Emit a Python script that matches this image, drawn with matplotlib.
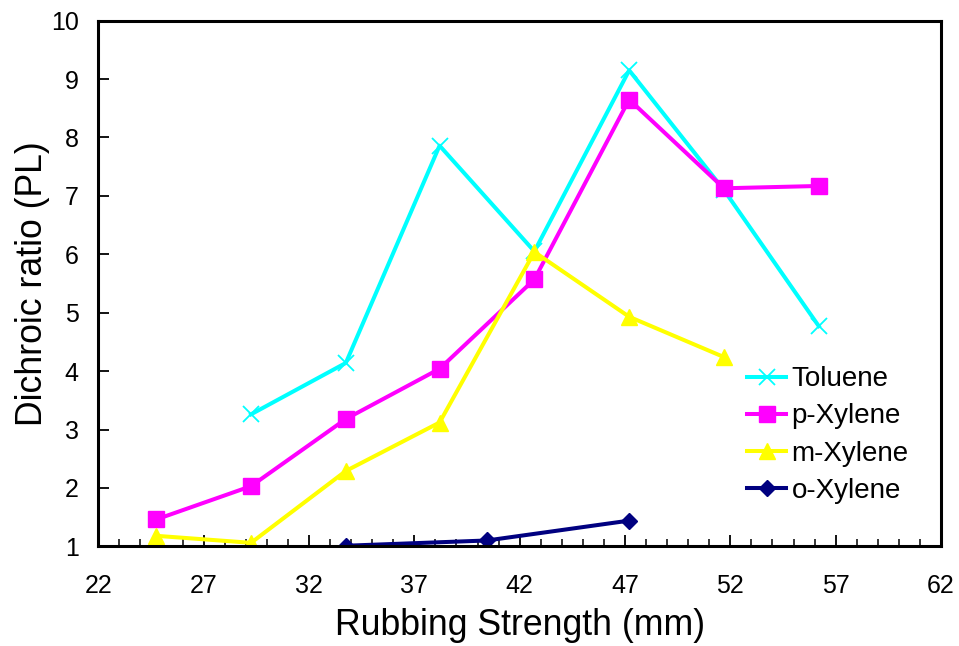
import matplotlib
matplotlib.use("Agg")
import matplotlib.pyplot as plt
from matplotlib.ticker import MultipleLocator

plt.rcParams['font.family'] = ['Liberation Sans', 'DejaVu Sans']

x_all = [24.75, 29.25, 33.75, 38.2, 42.7, 47.2, 51.7, 56.2]
toluene_x = [29.25, 33.75, 38.2, 42.7, 47.2, 51.7, 56.2]
toluene_y = [3.26, 4.14, 7.86, 6.05, 9.15, 7.10, 4.77]
pxylene_x = x_all
pxylene_y = [1.46, 2.03, 3.18, 4.04, 5.57, 8.65, 7.13, 7.17]
mxylene_x = [24.75, 29.25, 33.75, 38.2, 42.7, 47.2, 51.7]
mxylene_y = [1.18, 1.06, 2.29, 3.12, 6.04, 4.93, 4.24]
oxylene_x = [33.75, 40.45, 47.2]
oxylene_y = [1.01, 1.10, 1.44]

x_ticks = [22, 27, 32, 37, 42, 47, 52, 57, 62]
y_ticks = [1, 2, 3, 4, 5, 6, 7, 8, 9, 10]

fig = plt.figure(figsize=(9.59, 6.46), dpi=100)
ax = fig.add_axes([0.1025, 0.1543, 0.8787, 0.8137])

lw = 2.9
ax.plot(toluene_x, toluene_y, color='#00FFFF', lw=lw, marker='x', ms=11, mew=1.3, label='Toluene')
ax.plot(pxylene_x, pxylene_y, color='#FF00FF', lw=lw, marker='s', ms=11, label='p-Xylene')
ax.plot(mxylene_x, mxylene_y, color='#FFFF00', lw=lw, marker='^', ms=12, label='m-Xylene')
ax.plot(oxylene_x, oxylene_y, color='#000080', lw=lw, marker='D', ms=8, label='o-Xylene')

ax.set_xlim(22, 62)
ax.set_ylim(1, 10)
ax.set_xticks(x_ticks)
ax.set_yticks(y_ticks)
ax.xaxis.set_minor_locator(MultipleLocator(1))

for s in ax.spines.values():
    s.set_linewidth(2.2)
ax.tick_params(axis='x', which='major', direction='in', length=8, width=1.3, pad=20, labelsize=18, top=False)
ax.tick_params(axis='x', which='minor', direction='in', length=5, width=1.1, top=False)
ax.tick_params(axis='y', which='major', direction='in', length=8, width=1.3, pad=14, labelsize=18, right=False)

ax.set_xlabel('Rubbing Strength (mm)', fontsize=25.7, labelpad=7)
ax.set_ylabel('Dichroic ratio (PL)', fontsize=25.7, labelpad=1)

leg = ax.legend(loc='lower right', bbox_to_anchor=(0.975, 0.06), frameon=False, fontsize=20,
                handlelength=1.4, handletextpad=0.2, labelspacing=0.4, borderaxespad=0)

fig.savefig('out.png', dpi=100)
